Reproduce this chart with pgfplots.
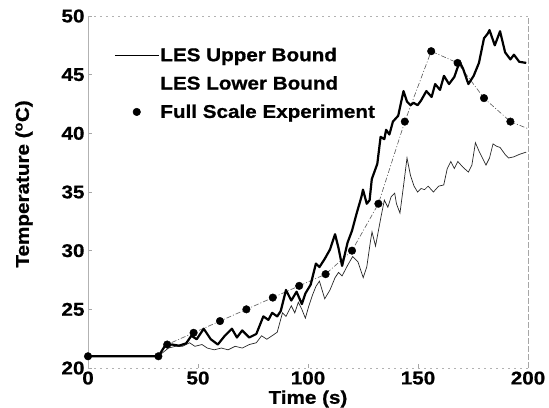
\documentclass[border=0pt]{standalone}
\usepackage{fontspec}
\setmainfont{Liberation Sans}[FakeStretch=1.12, BoldFeatures={FakeBold=0.8}]
\usepackage{pgfplots}
\usepackage{pgfplotstable}
\pgfplotsset{compat=1.18}

% LES upper bound (s, degC)
\pgfplotstableread{
t T
0 21
31 21
32.2 21.05
35 21.9
38.2 22
41.4 21.9
44.6 22.1
47 22.75
49.4 22.45
52.6 23.35
55.8 22.45
59 22
62.2 22.75
65.4 23.35
67.7 22.6
70.1 23.2
73.3 22.6
76.5 22.9
79.7 24.4
82 24.1
83.7 24.7
86 24.4
87.6 24.85
90 26.65
92.4 25.75
94.8 26.5
97.2 25.45
98.8 26.35
101.2 27.1
103.6 28.9
105.2 28.6
107.6 29.3
110 30.1
112.3 31.4
113.9 30.2
115.5 28.7
118 30.7
120 31.7
122 33.1
124.3 34.6
125 35.2
126.7 34
128 34.3
129 36.1
131.5 37.4
133 39.7
134.7 39.5
135.5 40.3
137 39.9
138.6 41
141 41.5
143.4 43.6
145 42.7
146.6 42.4
148 42.6
149.8 42.4
151.4 42.8
153.8 43.6
156.2 43.1
157.8 44.2
160 43.7
161.8 44.9
164.1 44.2
166.5 44.8
168.9 46.1
170.5 45.5
172.9 44.2
175.3 44.9
177.7 46
180 48.1
181.7 48.5
182.5 48.8
184.9 47.5
187.3 48.7
189.6 46.9
192 46.3
193.6 46.7
196 46.1
199.2 46
}\upperbound

% LES lower bound (s, degC)
\pgfplotstableread{
t T
0 21
32.2 21.05
36.6 21.7
39.8 21.85
43 21.85
46.2 22.15
48.6 21.85
51.8 22
54.2 21.7
57.4 21.55
60.6 21.7
63.7 21.55
66.9 21.85
70.1 21.7
73.3 22
76.5 22.15
78.9 22.75
81.3 22.45
83.7 22.75
86 23.05
88.4 24.7
90 24.4
92.4 25.3
94 24.7
95.6 25.6
97.2 25
98.8 24.25
100.4 25.3
102 26.2
103.6 26.95
105.2 27.4
107.6 25.9
110 26.65
112.3 27.7
113.9 28.15
115.5 27.85
118 28.75
120.3 29.5
122.7 29.05
125.1 27.7
126.7 28.6
128.3 30.7
129.1 31.6
130.7 30.4
133.1 32.8
134.7 34.3
136.3 33.7
137.8 34.6
139.4 34.9
140.2 34
141.8 33.2
143.4 35.5
145 37.9
146.6 36.4
148.2 35.5
149.8 35
151.4 35.3
153 35.2
154.6 35.5
157 35
159.4 35.5
161.7 35.6
163.3 37
164.9 37.6
166.5 37
168.1 37.6
170.5 37.1
172.9 36.7
174.5 37.3
176.1 39.2
177.7 38.5
179.3 37.9
180.9 37.3
182.5 37.9
184.1 39.1
185.7 38.9
187.3 38.8
189.6 38.2
191.2 37.9
193.6 38
196 38.2
199.2 38.4
}\lowerbound

% Full scale experiment (s, degC)
\pgfplotstableread{
t T
0 21
32 21
36 22
48 23
60 24
72 25
84 26
96 27
108 28
120 30
132 34
144 41
156 47
168 46
180 43
192 41
}\experiment

\pgfplotstableread{
t T
192 41
200 40.4
}\experimenttail

\begin{document}
\begin{tikzpicture}
\path[use as bounding box] (-88bp,-40bp) rectangle (461bp,368bp);
\begin{axis}[
  at={(0,0)}, anchor=south west,
  scale only axis, width=440bp, height=352bp,
  xmin=0, xmax=200, ymin=20, ymax=50,
  xtick={0,50,...,200}, ytick={20,25,...,50},
  axis line style={draw=none},
  tick style={gray!70, line width=0.5bp},
  major tick length=4bp,
  xtick pos=bottom, ytick pos=left,
  ticklabel style={font=\fontsize{18.5}{21}\selectfont\bfseries},
  /pgf/number format/assume math mode=true,
  xlabel={Time (s)},
  ylabel={Temperature (\textsuperscript{o}C)},
  label style={font=\fontsize{18.5}{21}\selectfont\bfseries},
  ylabel style={at={(ticklabel cs:0.523)}},
  ylabel shift=22bp,
  xlabel shift=-1bp,
  clip=false,
  legend style={at={(rel axis cs:0.059,0.913)}, anchor=north west,
    draw=none, fill=none, row sep=11.5bp, inner xsep=0pt, inner ysep=0pt,
    nodes={inner sep=1bp},
    font=\fontsize{18.5}{21}\selectfont\bfseries},
  legend cell align=left,
  legend image code/.code={\draw[#1] (0bp,0bp) -- (44bp,0bp);},
]
% frame
\draw[gray!60, line width=0.6bp] (rel axis cs:0,0) -- (rel axis cs:0,1);
\draw[gray!60, line width=0.6bp, dash pattern=on 2bp off 4bp] (rel axis cs:0,1) -- (rel axis cs:1,1);
\draw[gray!60, line width=0.6bp, dash pattern=on 2bp off 4bp] (rel axis cs:0,0) -- (rel axis cs:1,0);
\draw[gray!70, line width=0.6bp, dash pattern=on 6bp off 2bp] (rel axis cs:1,0) -- (rel axis cs:1,1);

\addplot[black!65, line width=0.6bp, dash pattern=on 5bp off 2bp on 1bp off 2bp, forget plot] table[x=t,y=T] {\experiment};
\addplot[black!65, line width=0.6bp, dash pattern=on 5bp off 2bp on 1bp off 2bp, forget plot] table[x=t,y=T] {\experimenttail};
\addplot[black!85, line width=0.7bp, forget plot] table[x=t,y=T] {\lowerbound};
\addplot[black, line width=2.2bp, line join=round, forget plot] table[x=t,y=T] {\upperbound};
\addplot[only marks, mark=*, mark size=3.8bp, black, forget plot] table[x=t,y=T] {\experiment};

\addlegendimage{black, line width=1.2bp}
\addlegendentry{LES Upper Bound}
\addlegendimage{legend image code/.code={}}
\addlegendentry{LES Lower Bound}
\addlegendimage{legend image code/.code={\fill (22bp,0bp) circle (3.8bp);}}
\addlegendentry{Full Scale Experiment}
\end{axis}
\end{tikzpicture}
\end{document}
